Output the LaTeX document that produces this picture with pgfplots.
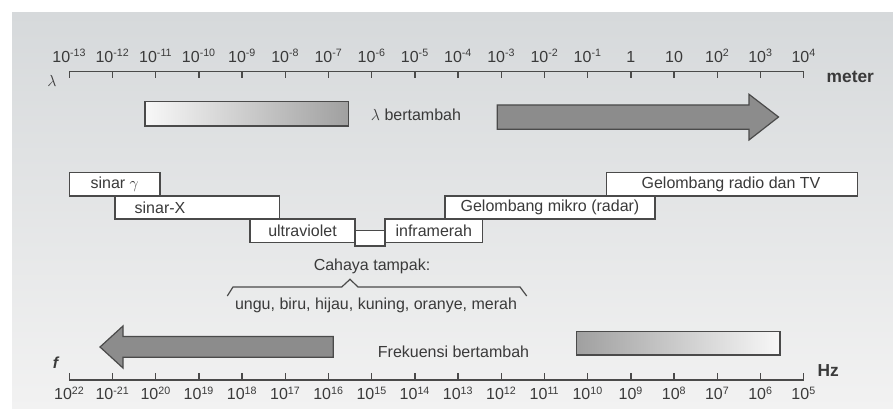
\documentclass[border=0pt]{standalone}
\usepackage{pgfplots}
\pgfplotsset{compat=1.18}
\usepackage{fontspec}
\setmainfont{Liberation Sans}
\definecolor{txt}{HTML}{3A3A3A}
\definecolor{ln}{HTML}{4A4A4A}
\definecolor{arr}{HTML}{8C8C8C}
\definecolor{bgtop}{HTML}{D6D9DB}
\definecolor{bgbot}{HTML}{F2F2F2}
\definecolor{grad}{HTML}{A0A0A0}
\newcommand{\band}[4]{\addplot[draw=ln, line width=1.1pt, fill=white] coordinates {(#1,#3) (#2,#3) (#2,#4) (#1,#4)} -- cycle;}
\begin{document}
\begin{tikzpicture}[font=\fontsize{12}{14}\selectfont]
% main diagram axis: x = log10(wavelength / m), y = vertical position (rows)
\begin{axis}[scale only axis, width=669.75pt, height=306.75pt,
  xmin=-14.6042, xmax=6.0671, ymin=0, ymax=409, y dir=reverse,
  hide axis, clip=false, at={(0,0)}, anchor=south west]
\addplot[draw=none, fill=white] coordinates {(-14.6042,0) (6.0671,0) (6.0671,409) (-14.6042,409)} -- cycle;
\addplot[draw=none, top color=bgtop, bottom color=bgbot] coordinates {(-14.3264,13) (6.0671,13) (6.0671,409) (-14.3264,409)} -- cycle;
% top gradient bar and arrow
\addplot[draw=ln, line width=1pt, left color=white!97!black, right color=grad] coordinates {(-11.248,101.7) (-6.542,101.7) (-6.542,126) (-11.248,126)} -- cycle;
\addplot[draw=ln, line width=0.9pt, fill=arr] coordinates {(-3.093,105) (2.734,105) (2.734,94.3) (3.417,117) (2.734,140) (2.734,129.3) (-3.093,129.3)} -- cycle;
\node[text=txt] at (axis cs:-4.975,115) {$\lambda$ bertambah};
% bands
\band{-13.000}{-10.900}{172.5}{196}
\band{-0.560}{5.250}{172.5}{196}
\band{-11.942}{-8.139}{196}{219}
\band{-4.303}{0.558}{196}{219}
\band{-8.817}{-6.387}{219}{242.5}
\band{-5.692}{-3.431}{219}{242.5}
\band{-6.387}{-5.692}{230.5}{246}
\node[text=txt] at (axis cs:-11.95,184) {sinar $\gamma$};
\node[text=txt] at (axis cs:-10.90,207.5) {sinar-X};
\node[text=txt] at (axis cs:-7.602,231) {ultraviolet};
\node[text=txt] at (axis cs:-4.5625,231) {inframerah};
\node[text=txt] at (axis cs:-1.873,207.5) {Gelombang mikro (radar)};
\node[text=txt] at (axis cs:2.317,184) {Gelombang radio dan TV};
% visible light
\node[text=txt] at (axis cs:-5.993,266) {Cahaya tampak:};
\addplot[draw=ln, line width=0.9pt] coordinates {(-9.343,296) (-9.211,287) (-6.694,287) (-6.502,279.3) (-6.317,287) (-2.567,287) (-2.412,296)};
\node[text=txt] at (axis cs:-5.900,305) {ungu, biru, hijau, kuning, oranye, merah};
% bottom arrow and gradient bar
\addplot[draw=ln, line width=0.9pt, fill=arr] coordinates {(-6.889,336.5) (-11.757,336.5) (-11.757,326) (-12.289,347) (-11.757,368) (-11.757,357.3) (-6.889,357.3)} -- cycle;
\addplot[draw=ln, line width=1pt, left color=grad, right color=white!97!black] coordinates {(-1.255,331.7) (3.451,331.7) (3.451,355) (-1.255,355)} -- cycle;
\node[text=txt] at (axis cs:-4.1065,352) {Frekuensi bertambah};
% axis names
\node[text=txt] at (axis cs:-13.40,81) {$\lambda$};
\node[text=txt, anchor=base, font=\fontsize{13}{15}\selectfont\bfseries] at (axis cs:5.079,83) {meter};
\node[text=txt, font=\fontsize{12}{14}\selectfont\bfseries\itshape] at (axis cs:-13.32,363) {f};
\node[text=txt, font=\fontsize{13}{15}\selectfont\bfseries] at (axis cs:4.569,371) {Hz};
\end{axis}
% wavelength scale
\begin{axis}[scale only axis, at={(51.975pt,252.975pt)}, anchor=north west,
  width=550.8pt, height=10pt, xmin=-13, xmax=4, ymin=0, ymax=1,
  axis x line*=top, axis y line=none, ytick=\empty,
  xtick={-13,-12,...,4},
  xticklabels={10\textsuperscript{-13},10\textsuperscript{-12},10\textsuperscript{-11},10\textsuperscript{-10},10\textsuperscript{-9},10\textsuperscript{-8},10\textsuperscript{-7},10\textsuperscript{-6},10\textsuperscript{-5},10\textsuperscript{-4},10\textsuperscript{-3},10\textsuperscript{-2},10\textsuperscript{-1},1,10,10\textsuperscript{2},10\textsuperscript{3},10\textsuperscript{4}},
  tick align=inside, major tick length=5pt,
  axis line style={ln, line width=1.1pt, -},
  major tick style={ln, line width=1.1pt},
  xticklabel style={text=txt, font=\fontsize{12}{14}\selectfont, yshift=3.5pt}]
\addplot[draw=none] coordinates {(0,0)};
\end{axis}
% frequency scale
\begin{axis}[scale only axis, at={(51.975pt,21.75pt)}, anchor=south west,
  width=550.8pt, height=10pt, xmin=5, xmax=22, x dir=reverse, ymin=0, ymax=1,
  axis x line*=bottom, axis y line=none, ytick=\empty,
  xtick={22,21,...,5},
  xticklabels={10\textsuperscript{22},10\textsuperscript{-21},10\textsuperscript{20},10\textsuperscript{19},10\textsuperscript{18},10\textsuperscript{17},10\textsuperscript{16},10\textsuperscript{15},10\textsuperscript{14},10\textsuperscript{13},10\textsuperscript{12},10\textsuperscript{11},10\textsuperscript{10},10\textsuperscript{9},10\textsuperscript{8},10\textsuperscript{7},10\textsuperscript{6},10\textsuperscript{5}},
  tick align=inside, major tick length=5pt,
  axis line style={ln, line width=1.1pt, -},
  major tick style={ln, line width=1.1pt},
  xticklabel style={text=txt, font=\fontsize{12}{14}\selectfont, yshift=-1.5pt}]
\addplot[draw=none] coordinates {(10,0)};
\end{axis}
\end{tikzpicture}
\end{document}
